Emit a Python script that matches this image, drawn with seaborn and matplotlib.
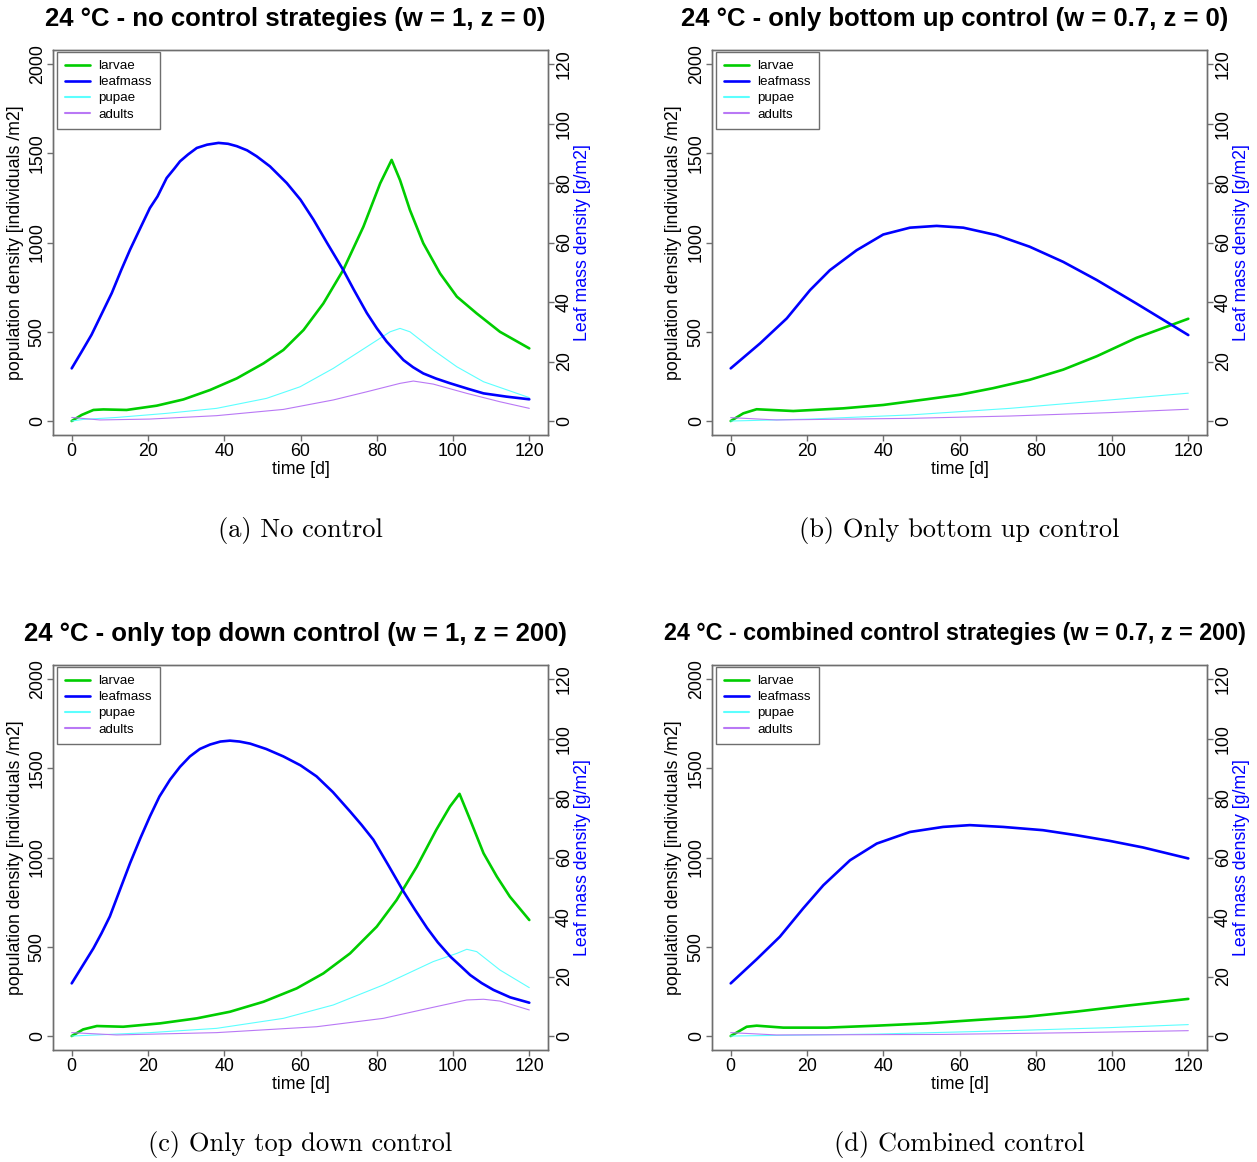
import matplotlib
matplotlib.use("Agg")
import matplotlib.pyplot as plt
import seaborn as sns
from matplotlib.lines import Line2D

sns.set_style("white")
plt.rcParams['font.family'] = ['Liberation Sans', 'DejaVu Sans']
plt.rcParams['text.color'] = 'black'
plt.rcParams['axes.labelcolor'] = 'black'
plt.rcParams['xtick.color'] = 'black'
plt.rcParams['ytick.color'] = 'black'
plt.rcParams['lines.solid_joinstyle'] = 'round'
plt.rcParams['lines.solid_capstyle'] = 'round'

# ---------------- data ----------------
# Panel (a): no control
a_larvae_t = [0, 2.6, 5.7, 8.3, 14.4, 22.3, 29.3, 36.3, 43.3, 50.3, 55.5, 60.8, 66, 71.2, 76.5, 80.9, 83.9, 86.1, 88.7, 92.2, 96.6, 101, 106.2, 112.3, 120]
a_larvae = [0, 34, 62, 65, 62, 86, 121, 174, 239, 323, 398, 510, 659, 846, 1089, 1332, 1463, 1350, 1182, 996, 827, 697, 603, 500, 407]
a_leaf_t = [0, 2.6, 5.2, 10.5, 13, 15.3, 18, 20.5, 22.5, 24.9, 27, 28.4, 30.5, 32.8, 35.5, 38.5, 41, 43.3, 46, 48.5, 52, 56.4, 60, 63.4, 67, 71.2, 74, 77.4, 80, 82.6, 84.5, 87, 89.5, 92.2, 95.5, 99.2, 104, 108, 114, 120]
a_leaf = [17.7, 23.3, 29, 43, 50.8, 57.6, 64.9, 71.6, 75.5, 81.7, 85, 87.3, 89.6, 91.8, 92.9, 93.5, 93.2, 92.4, 91, 89, 85.6, 80, 74.4, 67.7, 59.8, 50.8, 44.1, 36.3, 31.2, 26.7, 24, 20.5, 18.1, 16, 14.3, 12.7, 10.8, 9.3, 8.2, 7.3]
a_pupae_t = [0, 3, 11.8, 24.9, 38, 51.1, 59.9, 68.6, 77.4, 83.5, 86.1, 88.7, 94.8, 101, 108, 120]
a_pupae = [0, 9, 20, 43, 71, 127, 192, 295, 416, 500, 519, 500, 398, 304, 220, 131]
a_adults_t = [0, 7.4, 20.5, 38, 55.5, 68.6, 77.4, 86.1, 89.6, 94.8, 103.6, 112.3, 120]
a_adults = [20, 6, 11, 30, 65, 118, 164, 211, 224, 207, 155, 108, 71]

# Panel (b): only bottom up control
b_larvae_t = [0, 3.3, 6.8, 16.4, 29.5, 40, 51.4, 60, 68.8, 78.4, 87.2, 96, 106.4, 120]
b_larvae = [0, 43, 66, 56, 71, 90, 122, 147, 184, 231, 288, 363, 466, 573]
b_leaf_t = [0, 7.7, 14.7, 20.8, 26, 33, 40, 47, 54, 61, 69.7, 78.4, 87.2, 96, 106.4, 120]
b_leaf = [17.7, 26.1, 34.5, 44, 50.7, 57.4, 62.7, 65, 65.6, 65, 62.5, 58.6, 53.5, 47.4, 39.5, 28.9]
b_pupae_t = [0, 20.8, 47, 73.2, 99.4, 120]
b_pupae = [0, 11, 34, 71, 118, 156]
b_adults_t = [0, 12, 47, 73.2, 99.4, 120]
b_adults = [19, 6, 15, 28, 47, 66]

# Panel (c): only top down control
c_larvae_t = [0, 3, 6.6, 13.5, 23.2, 32.8, 41.5, 50.3, 59, 66, 73, 80, 85.2, 90.5, 95.6, 99.2, 101.7, 104.5, 108, 111.5, 114.9, 120]
c_larvae = [0, 37, 56, 52, 71, 99, 136, 192, 267, 351, 463, 613, 762, 949, 1155, 1286, 1357, 1211, 1024, 893, 781, 650]
c_leaf_t = [0, 2.8, 5.7, 7.8, 10, 12.6, 15.3, 18, 20.5, 23, 25.8, 28.4, 31, 33.6, 36.3, 39, 41.5, 44, 46.8, 51, 55.5, 60, 64.2, 68.5, 73, 76, 79.1, 83, 87, 90, 93.2, 96, 99.3, 102, 104.5, 107.5, 110.6, 115, 120]
c_leaf = [17.7, 23.5, 29.5, 34.5, 40.2, 49, 58.1, 66.5, 73.8, 80.5, 86.2, 90.5, 94, 96.5, 98, 99, 99.3, 99, 98.3, 96.5, 94, 91, 87.3, 82, 75.5, 71, 66, 57.5, 48.6, 42.5, 36.3, 31.5, 26.7, 23.5, 20.5, 17.8, 15.5, 13, 11.2]
c_pupae_t = [0, 20.5, 38, 55.5, 68.6, 81.7, 94.8, 101, 103.6, 106.2, 112.3, 120]
c_pupae = [0, 19, 43, 99, 174, 286, 417, 463, 486, 473, 370, 271]
c_adults_t = [0, 11.8, 38, 64.2, 81.7, 94.8, 103.6, 108, 112.3, 120]
c_adults = [19, 6, 19, 52, 99, 161, 202, 206, 196, 146]

# Panel (d): combined control
d_larvae_t = [0, 4.2, 6.8, 13.8, 25.2, 38.3, 51.4, 64.5, 77.6, 90.7, 103.8, 120]
d_larvae = [0, 52, 58, 47, 47, 58, 71, 90, 108, 137, 170, 208]
d_leaf_t = [0, 6.8, 12.9, 19, 24.3, 31.3, 38.3, 47, 55.7, 62.7, 71.4, 81.9, 90.7, 99.4, 108.1, 120]
d_leaf = [17.7, 25.8, 33.4, 42.9, 50.7, 59.1, 64.7, 68.6, 70.3, 70.9, 70.3, 69.2, 67.5, 65.6, 63.4, 59.7]
d_pupae_t = [0, 38.3, 73.2, 99.4, 120]
d_pupae = [0, 11, 30, 47, 64]
d_adults_t = [0, 12, 55.7, 90.7, 120]
d_adults = [19, 6, 9, 19, 30]

titles = ["24 °C - no control strategies (w = 1, z = 0)",
          "24 °C - only bottom up control (w = 0.7, z = 0)",
          "24 °C - only top down control (w = 1, z = 200)",
          "24 °C - combined control strategies (w = 0.7, z = 200)"]
captions = ["(a) No control", "(b) Only bottom up control",
            "(c) Only top down control", "(d) Combined control"]
series_names = ["larvae", "leafmass", "pupae", "adults"]
x_ticks = [0, 20, 40, 60, 80, 100, 120]
pop_ticks = [0, 500, 1000, 1500, 2000]
leaf_ticks = [0, 20, 40, 60, 80, 100, 120]

panels = [
    (a_larvae_t, a_larvae, a_leaf_t, a_leaf, a_pupae_t, a_pupae, a_adults_t, a_adults),
    (b_larvae_t, b_larvae, b_leaf_t, b_leaf, b_pupae_t, b_pupae, b_adults_t, b_adults),
    (c_larvae_t, c_larvae, c_leaf_t, c_leaf, c_pupae_t, c_pupae, c_adults_t, c_adults),
    (d_larvae_t, d_larvae, d_leaf_t, d_leaf, d_pupae_t, d_pupae, d_adults_t, d_adults),
]

# ---------------- styles ----------------
C_LARVAE = "#00CD00"
C_LEAF = "#0000FF"
C_PUPAE = "#5CFFFF"
C_ADULTS = "#B978F5"
SPINE = "#6E6E6E"
FS = 12.8
TITLE_FS = [18.5, 18.5, 18.5, 16.8]

W = 1257
H = 1162
fig = plt.figure(figsize=(W / 100, H / 100), dpi=100)

ax_w = 494.2 / W
ax_h = 385.5 / H
lefts = [53.4 / W, 712.4 / W, 53.4 / W, 712.4 / W]
bottoms = [1 - 435.3 / H, 1 - 435.3 / H, 1 - 1050.3 / H, 1 - 1050.3 / H]
cap_y = [1 - 530 / H, 1 - 530 / H, 1 - 1145 / H, 1 - 1145 / H]

for i, p in enumerate(panels):
    lt, lv, ft, fv, pt, pv, at, av = p
    ax = fig.add_axes([lefts[i], bottoms[i], ax_w, ax_h])
    ax2 = ax.twinx()

    sns.lineplot(x=lt, y=lv, ax=ax, color=C_LARVAE, linewidth=1.9, estimator=None)
    sns.lineplot(x=pt, y=pv, ax=ax, color=C_PUPAE, linewidth=0.8, estimator=None)
    sns.lineplot(x=at, y=av, ax=ax, color=C_ADULTS, linewidth=0.8, estimator=None)
    sns.lineplot(x=ft, y=fv, ax=ax2, color=C_LEAF, linewidth=1.9, estimator=None)

    ax.set_xlim(-4.8, 124.8)
    ax.set_ylim(-80, 2080)
    ax2.set_ylim(-4.8, 124.8)
    ax.set_xticks(x_ticks)
    ax.set_xticklabels([str(v) for v in x_ticks])
    ax.set_yticks(pop_ticks)
    ax.set_yticklabels([str(v) for v in pop_ticks])
    ax2.set_yticks(leaf_ticks)
    ax2.set_yticklabels([str(v) for v in leaf_ticks])

    for a in (ax, ax2):
        for s in a.spines.values():
            s.set_color(SPINE)
            s.set_linewidth(1.0)
    ax.tick_params(axis='both', which='both', direction='out', length=4, width=1,
                   color=SPINE, labelsize=FS, pad=1.5, bottom=True, left=True,
                   labelcolor='black')
    ax2.tick_params(axis='y', direction='out', length=4, width=1, color=SPINE,
                    labelsize=FS, pad=2, right=True, left=False, labelcolor='black')
    for lab in ax.get_yticklabels():
        lab.set_rotation(90)
        lab.set_va('center')
        lab.set_ha('right')
    for lab in ax2.get_yticklabels():
        lab.set_rotation(90)
        lab.set_va('center')
        lab.set_ha('left')

    ax.set_xlabel("time [d]", fontsize=FS, va='center')
    ax.xaxis.set_label_coords(0.5, -34 / 385.5)
    ax.set_ylabel("population density [individuals /m2]", fontsize=FS, va='center')
    ax.yaxis.set_label_coords((15 - 53.4) / 494.2, 0.5)
    ax2.set_ylabel("Leaf mass density [g/m2]", fontsize=FS, color=C_LEAF,
                   va='center', rotation=90)
    ax2.yaxis.set_label_coords((582 - 53.4) / 494.2, 0.5)

    for a in (ax, ax2):
        lg = a.get_legend()
        if lg is not None:
            lg.remove()

    handles = [Line2D([], [], color=C_LARVAE, lw=1.9),
               Line2D([], [], color=C_LEAF, lw=1.9),
               Line2D([], [], color=C_PUPAE, lw=1.5),
               Line2D([], [], color=C_ADULTS, lw=1.5)]
    leg = ax2.legend(handles, series_names, loc='upper left',
                     bbox_to_anchor=(3.6 / 494.2, 1 - 2.2 / 385.5),
                     borderaxespad=0, fontsize=9.6, frameon=True, fancybox=False,
                     framealpha=1, edgecolor=SPINE, handlelength=1.85,
                     handletextpad=0.65, labelspacing=0.28, borderpad=0.6)
    leg.get_frame().set_linewidth(1.0)
    for t in leg.get_texts():
        t.set_color('black')

    ax.text(0.49, 1 + 31 / 385.5, titles[i], transform=ax.transAxes,
            ha='center', va='center', fontsize=TITLE_FS[i], fontweight='bold',
            color='black')
    fig.text(lefts[i] + ax_w / 2, cap_y[i], captions[i], ha='center', va='center',
             fontsize=19, family='cmr10', color='black')

fig.savefig("out.png", dpi=100)
